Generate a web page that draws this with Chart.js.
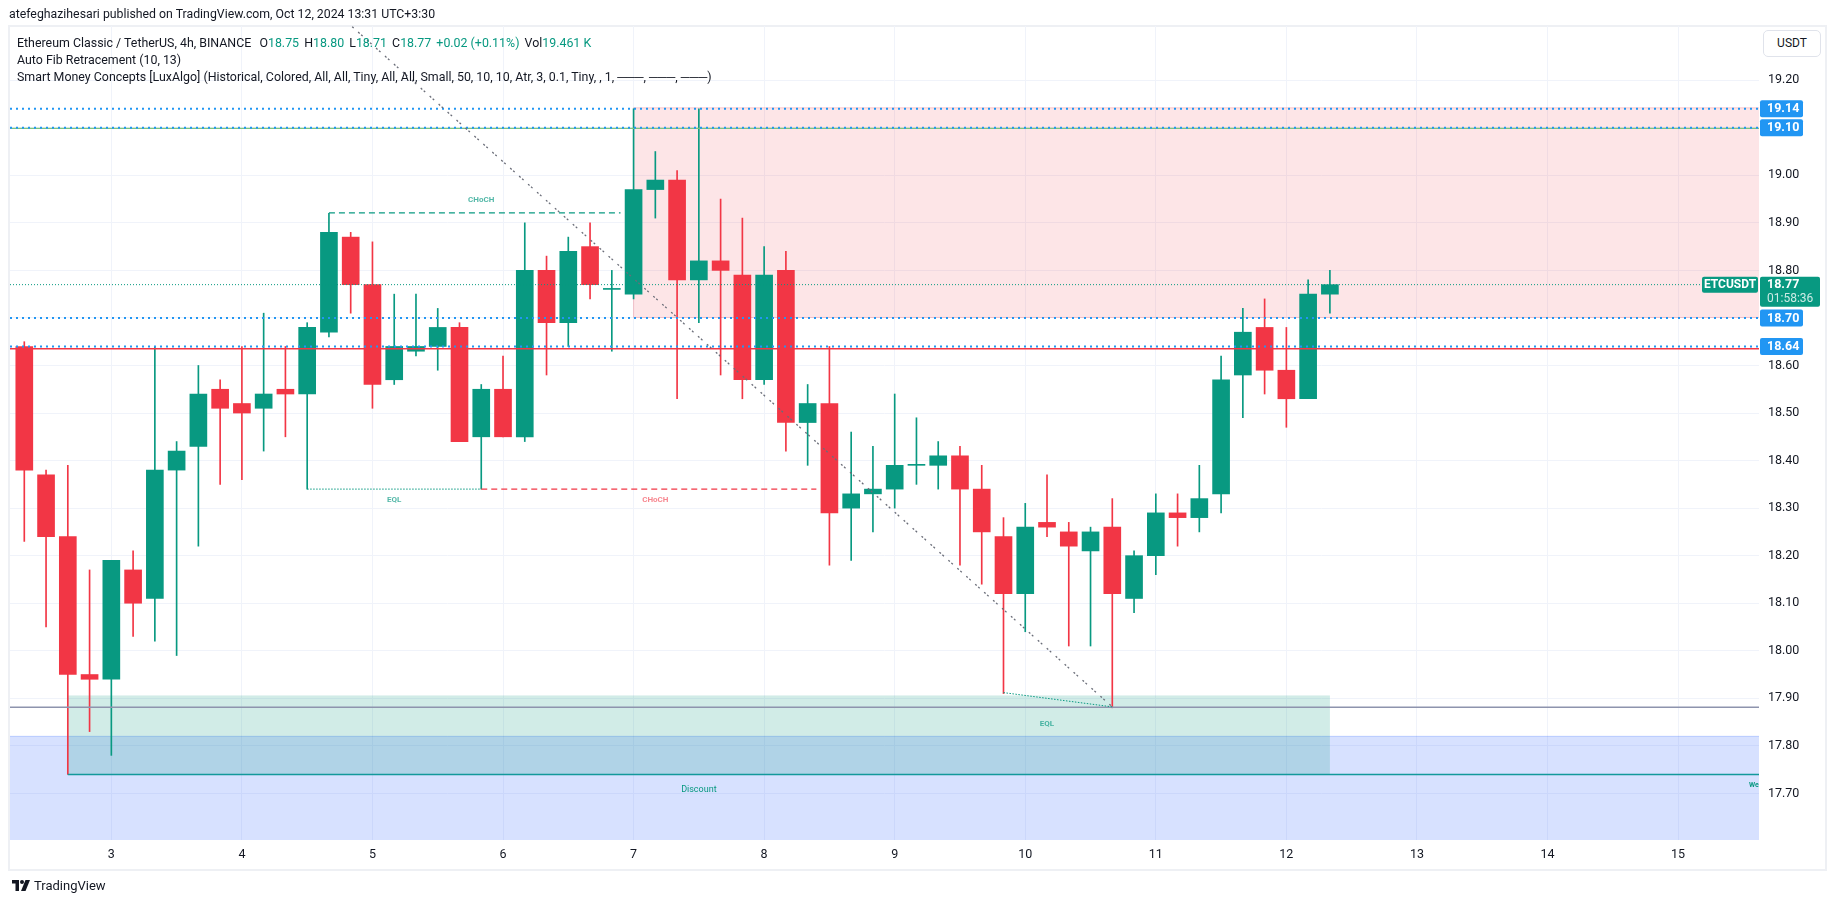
<!DOCTYPE html>
<html lang="en">
<head>
<meta charset="UTF-8">
<title>ETCUSDT 4h - TradingView</title>
<script src="https://cdn.jsdelivr.net/npm/chart.js"></script>
<style>
  body { margin: 0; background: #fff; font-family: Roboto, "Liberation Sans", sans-serif; color: #131722; }
  .wrap { position: relative; width: 1835px; height: 903px; overflow: hidden; }
  .frame { position: absolute; left: 8px; top: 25px; width: 1815px; height: 842px; border: 2px solid #eef0f4; }
  #chart { position: absolute; left: 0; top: 0; }
  .published { position: absolute; left: 9px; top: 7px; font-size: 12.3px; white-space: nowrap; }
  .legend { position: absolute; left: 17px; top: 34px; font-size: 12.4px; line-height: 17px; white-space: nowrap; z-index: 2; }
  .legend .v { color: #089981; }
  .legend span.g { margin-left: 2px; }
  .legend span.first { margin-left: 5px; }
  .usdt { position: absolute; left: 1763px; top: 30px; width: 56px; height: 25px; border: 1px solid #e0e3eb; border-radius: 5px;
          font-size: 12px; line-height: 25px; text-align: center; background: #fff; z-index: 2; }
  .footer { position: absolute; left: 12px; top: 878px; font-size: 13px; display: flex; align-items: center; gap: 4px; }
</style>
</head>
<body>
<div class="wrap">
  <div class="frame"></div>
  <canvas id="chart" width="1835" height="903"></canvas>
  <div class="published">atefeghazihesari published on TradingView.com, Oct 12, 2024 13:31 UTC+3:30</div>
  <div class="legend">
    <div>Ethereum Classic / TetherUS, 4h, BINANCE <span class="first">O</span><span class="v">18.75</span> <span class="g">H</span><span class="v">18.80</span> <span class="g">L</span><span class="v">18.71</span> <span class="g">C</span><span class="v">18.77</span> <span class="g v">+0.02 (+0.11%)</span> <span class="g">Vol</span><span class="v">19.461 K</span></div>
    <div>Auto Fib Retracement (10, 13)</div>
    <div>Smart Money Concepts [LuxAlgo] (Historical, Colored, All, All, Tiny, All, All, Small, 50, 10, 10, Atr, 3, 0.1, Tiny, , 1, ───, ───, ───)</div>
  </div>
  <div class="usdt">USDT</div>
  <div class="footer">
    <svg width="18" height="11" viewBox="0 0 36 22"><path d="M0 0h14v22H7V7H0z" fill="#131722"/><circle cx="20" cy="4" r="4" fill="#131722"/><path d="M27 0h9l-9 22h-9z" fill="#131722"/></svg>
    <span>TradingView</span>
  </div>
</div>
<script>
// candles, 4h, index 0 = first bar on screen
const opens  = [18.64, 18.37, 18.24, 17.95, 17.94, 18.17, 18.11, 18.38, 18.43, 18.55, 18.52, 18.51, 18.55, 18.54, 18.67, 18.87, 18.77, 18.57, 18.63, 18.64, 18.68,
                18.45, 18.55, 18.45, 18.80, 18.69, 18.85, 18.76, 18.75, 18.97, 18.99, 18.78, 18.82, 18.79, 18.57, 18.80, 18.48, 18.52, 18.30, 18.33, 18.34,
                18.39, 18.39, 18.41, 18.34, 18.24, 18.12, 18.27, 18.25, 18.21, 18.26, 18.11, 18.20, 18.29, 18.28, 18.33, 18.58, 18.68, 18.59, 18.53, 18.75];
const highs  = [18.65, 18.38, 18.39, 18.17, 18.19, 18.21, 18.64, 18.44, 18.60, 18.57, 18.64, 18.71, 18.64, 18.69, 18.92, 18.88, 18.86, 18.75, 18.75, 18.72, 18.69,
                18.56, 18.62, 18.90, 18.83, 18.87, 18.90, 18.80, 19.14, 19.05, 19.01, 19.14, 18.95, 18.91, 18.85, 18.84, 18.56, 18.64, 18.46, 18.43, 18.54,
                18.49, 18.44, 18.43, 18.39, 18.28, 18.31, 18.37, 18.27, 18.26, 18.32, 18.21, 18.33, 18.33, 18.39, 18.62, 18.72, 18.74, 18.68, 18.78, 18.80];
const lows   = [18.23, 18.05, 17.74, 17.83, 17.78, 18.03, 18.02, 17.99, 18.22, 18.35, 18.36, 18.42, 18.45, 18.34, 18.66, 18.71, 18.51, 18.56, 18.62, 18.59, 18.44,
                18.34, 18.45, 18.44, 18.58, 18.64, 18.74, 18.63, 18.74, 18.91, 18.53, 18.69, 18.58, 18.53, 18.56, 18.42, 18.39, 18.18, 18.19, 18.25, 18.30,
                18.35, 18.34, 18.18, 18.14, 17.91, 18.04, 18.24, 18.01, 18.01, 17.88, 18.08, 18.16, 18.22, 18.25, 18.29, 18.49, 18.54, 18.47, 18.53, 18.71];
const closes = [18.38, 18.24, 17.95, 17.94, 18.19, 18.10, 18.38, 18.42, 18.54, 18.51, 18.50, 18.54, 18.54, 18.68, 18.88, 18.77, 18.56, 18.64, 18.64, 18.68, 18.44,
                18.55, 18.45, 18.80, 18.69, 18.84, 18.77, 18.76, 18.97, 18.99, 18.78, 18.82, 18.80, 18.57, 18.79, 18.48, 18.52, 18.29, 18.33, 18.34, 18.39,
                18.39, 18.41, 18.34, 18.25, 18.12, 18.26, 18.26, 18.22, 18.25, 18.12, 18.20, 18.29, 18.28, 18.32, 18.57, 18.67, 18.59, 18.53, 18.75, 18.77];

// time axis: bar index where each day starts, and its label
const dayIndex  = [4, 10, 16, 22, 28, 34, 40, 46, 52, 58, 64, 70, 76];
const dayLabels = ['3', '4', '5', '6', '7', '8', '9', '10', '11', '12', '13', '14', '15'];
const priceTicks = [17.7, 17.8, 17.9, 18.0, 18.1, 18.2, 18.3, 18.4, 18.5, 18.6, 18.7, 18.8, 18.9, 19.0, 19.1, 19.2];

// indicator levels
const fibLevels   = [19.14, 19.10, 18.70, 18.64];
const lastPrice   = 18.77;
const countdown   = '01:58:36';
const supplyZone  = [19.142, 18.701];   // top, bottom, from bar 28
const demandZone  = [17.906, 17.74];    // from bar 2 to bar 60
const discountTop = 17.82;
const weakLow     = 17.74;
const swingLow    = 17.881;
const prevHigh    = 18.635;
const chochUp     = 18.921;             // bar 14 -> bar 27.4
const eqlLevel    = 18.34;              // bar 13 -> bar 21
const chochDown   = 18.34;              // bar 21 -> bar 36.4
const eqlLows     = [17.912, 17.882];   // bar 45 -> bar 50
const fibLine     = [[10, 19.52], [50, 17.882]];

const GREEN = '#089981', RED = '#f23645', BLUE = '#2196f3';
const candleColors = closes.map((c, i) => c >= opens[i] ? GREEN : RED);

function hLine(ctx, x1, x2, yy, color, width, dash) {
  ctx.beginPath();
  ctx.strokeStyle = color; ctx.lineWidth = width; ctx.setLineDash(dash || []);
  ctx.moveTo(x1, yy); ctx.lineTo(x2, yy); ctx.stroke();
}

function tag(ctx, x, yy, w, h, bg, text, fg) {
  ctx.fillStyle = bg;
  ctx.beginPath(); ctx.roundRect(x, yy - h / 2, w, h, 2); ctx.fill();
  ctx.fillStyle = fg; ctx.textBaseline = 'middle';
  ctx.fillText(text, x + 7, yy + 0.5);
}

const overlay = {
  id: 'overlay',
  beforeDatasetsDraw(chart) {
    const { ctx, chartArea: a, scales: { x, y } } = chart;
    ctx.save();
    ctx.beginPath(); ctx.rect(a.left, a.top, a.right - a.left, a.bottom - a.top); ctx.clip();
    // discount zone
    let t = y.getPixelForValue(discountTop);
    ctx.fillStyle = 'rgba(41,98,255,0.19)';
    ctx.fillRect(a.left, t, a.right - a.left, a.bottom - t);
    hLine(ctx, a.left, a.right, t, 'rgba(41,98,255,0.25)', 1);
    // demand zone
    let x1 = x.getPixelForValue(2), x2 = x.getPixelForValue(60);
    let t2 = y.getPixelForValue(demandZone[0]), b2 = y.getPixelForValue(demandZone[1]);
    ctx.fillStyle = 'rgba(8,153,129,0.19)';
    ctx.fillRect(x1, t2, x2 - x1, b2 - t2);
    // supply zone
    x1 = x.getPixelForValue(28);
    t2 = y.getPixelForValue(supplyZone[0]); b2 = y.getPixelForValue(supplyZone[1]);
    ctx.fillStyle = 'rgba(242,54,69,0.13)';
    ctx.fillRect(x1, t2, a.right - x1, b2 - t2);
    ctx.strokeStyle = 'rgba(242,54,69,0.22)'; ctx.lineWidth = 1;
    ctx.strokeRect(x1, t2, a.right - x1 + 2, b2 - t2);
    ctx.restore();
  },
  afterDatasetsDraw(chart) {
    const { ctx, chartArea: a, scales: { x, y } } = chart;
    const px = v => x.getPixelForValue(v), py = v => y.getPixelForValue(v);
    ctx.save();
    ctx.beginPath(); ctx.rect(a.left, a.top, a.right - a.left, a.bottom - a.top); ctx.clip();
    // swing low / weak low lines
    hLine(ctx, a.left, a.right, py(swingLow), '#8e94ad', 1.5);
    hLine(ctx, px(2), a.right, py(weakLow), '#12999b', 1.5);
    // previous high (red) and green fib line
    hLine(ctx, a.left, a.right, py(prevHigh), RED, 1.5);
    hLine(ctx, a.left, a.right, py(fibLevels[1]) + 0.7, '#7cc47f', 1.2);
    // fib levels (blue dotted)
    fibLevels.forEach(v => hLine(ctx, a.left, a.right, py(v), BLUE, 2, [2, 4]));
    // last price
    hLine(ctx, a.left, a.right, py(lastPrice), GREEN, 1, [1, 2]);
    // structure
    hLine(ctx, px(14), px(27.4), py(chochUp), GREEN, 1.2, [6, 4]);
    hLine(ctx, px(13), px(21), py(eqlLevel), GREEN, 1, [1.5, 1.5]);
    hLine(ctx, px(21), px(36.4), py(chochDown), RED, 1.2, [6, 4]);
    ctx.beginPath(); ctx.setLineDash([1.5, 1.5]); ctx.strokeStyle = GREEN; ctx.lineWidth = 1;
    ctx.moveTo(px(45), py(eqlLows[0])); ctx.lineTo(px(50), py(eqlLows[1])); ctx.stroke();
    // fib diagonal
    ctx.beginPath(); ctx.setLineDash([2, 2, 2, 6]); ctx.strokeStyle = '#6a6d78'; ctx.lineWidth = 1.3;
    ctx.moveTo(px(fibLine[0][0]), py(fibLine[0][1])); ctx.lineTo(px(fibLine[1][0]), py(fibLine[1][1])); ctx.stroke();
    ctx.setLineDash([]);
    // small labels
    ctx.font = 'bold 8px Roboto, sans-serif'; ctx.textAlign = 'center'; ctx.textBaseline = 'middle';
    ctx.fillStyle = 'rgba(8,153,129,0.7)';
    ctx.fillText('CHoCH', px(21), py(chochUp) - 13);
    ctx.fillText('EQL', px(17), py(eqlLevel) + 11);
    ctx.fillText('EQL', px(47), py(17.847));
    ctx.fillStyle = 'rgba(242,54,69,0.6)';
    ctx.fillText('CHoCH', px(29), py(chochDown) + 11);
    ctx.font = '9px Roboto, sans-serif';
    ctx.fillStyle = GREEN;
    ctx.fillText('Discount', px(31), py(17.707));
    ctx.textAlign = 'left'; ctx.font = 'bold 7px Roboto, sans-serif';
    ctx.fillText('Weak Low', a.right - 10, py(17.717));
    ctx.restore();
  },
  afterDraw(chart) {
    const { ctx, chartArea: a, scales: { y } } = chart;
    ctx.save();
    ctx.font = 'bold 12.5px Roboto, sans-serif'; ctx.textAlign = 'left';
    const lx = a.right + 1;
    fibLevels.forEach(v => tag(ctx, lx, y.getPixelForValue(v), 43, 17, BLUE, v.toFixed(2), '#fff'));
    // last price tag with countdown
    const ly = y.getPixelForValue(lastPrice);
    ctx.fillStyle = GREEN;
    ctx.beginPath(); ctx.roundRect(lx, ly - 8, 60, 30, 2); ctx.fill();
    ctx.fillStyle = '#fff'; ctx.textBaseline = 'middle';
    ctx.fillText(lastPrice.toFixed(2), lx + 7, ly + 0.5);
    ctx.font = '12px Roboto, sans-serif'; ctx.fillStyle = 'rgba(255,255,255,0.8)';
    ctx.fillText(countdown, lx + 7, ly + 14);
    // symbol tag
    ctx.fillStyle = GREEN;
    ctx.beginPath(); ctx.roundRect(a.right - 57, ly - 8, 56, 16, 2); ctx.fill();
    ctx.fillStyle = '#fff'; ctx.font = 'bold 12px Roboto, sans-serif'; ctx.textAlign = 'center';
    ctx.fillText('ETCUSDT', a.right - 29, ly + 0.5);
    ctx.restore();
  }
};

const tickFont = { family: 'Roboto, "Liberation Sans", sans-serif', size: 12.5 };

new Chart(document.getElementById('chart').getContext('2d'), {
  type: 'bar',
  data: {
    datasets: [
      {
        label: 'body',
        data: closes.map((c, i) => ({ x: i, y: [opens[i], c] })),
        backgroundColor: candleColors,
        barThickness: 17, minBarLength: 1, grouped: false, order: 0
      },
      {
        label: 'wick',
        data: lows.map((l, i) => ({ x: i, y: [l, highs[i]] })),
        backgroundColor: candleColors,
        barThickness: 1, grouped: false, order: 1
      }
    ]
  },
  options: {
    responsive: false,
    animation: false,
    layout: { padding: { left: 10, top: 26, right: 11, bottom: 35 } },
    plugins: { legend: { display: false }, tooltip: { enabled: false } },
    scales: {
      x: {
        type: 'linear', min: -0.657, max: 79.72, offset: false,
        afterBuildTicks: s => { s.ticks = dayIndex.map(v => ({ value: v })); },
        afterFit: s => { s.height = 28; },
        ticks: { callback: v => dayLabels[dayIndex.indexOf(v)], autoSkip: false, maxRotation: 0, padding: 7, color: '#131722', font: tickFont },
        grid: { color: '#f0f3fa', drawTicks: false, offset: false },
        border: { display: false }
      },
      y: {
        position: 'right', min: 17.602, max: 19.314,
        afterBuildTicks: s => { s.ticks = priceTicks.map(v => ({ value: v })); },
        afterFit: s => { s.width = 65; },
        ticks: { callback: v => v.toFixed(2), padding: 9, color: '#131722', font: tickFont },
        grid: { color: '#f0f3fa', drawTicks: false },
        border: { display: false }
      }
    }
  },
  plugins: [overlay]
});
</script>
</body>
</html>
